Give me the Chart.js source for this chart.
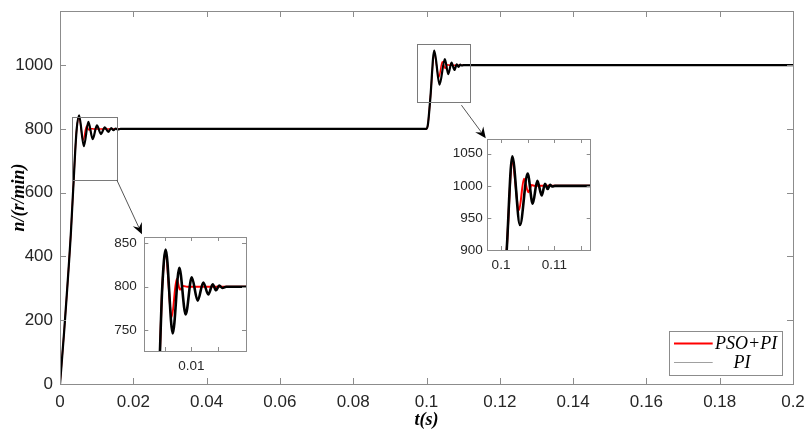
<!DOCTYPE html>
<html>
<head>
<meta charset="utf-8">
<script src="https://cdn.jsdelivr.net/npm/chart.js@4.4.1/dist/chart.umd.min.js"></script>
<style>
  html, body { margin: 0; padding: 0; background: #ffffff; }
  #wrap { position: relative; width: 811px; height: 436px; overflow: hidden; background: #ffffff; }
  canvas { position: absolute; }
</style>
</head>
<body>
<div id="wrap">
  <canvas id="main" width="811" height="436" style="left:0;top:0"></canvas>
  <canvas id="in1" width="165" height="150" style="left:95px;top:225px"></canvas>
  <canvas id="in2" width="165" height="150" style="left:440px;top:127px"></canvas>
</div>
<script>
// ---------------- data ----------------
const seriesNames = ['PSO+PI', 'PI'];

// PI controller response: time (s) and speed (r/min)
const tPI = [0, 0.0011, 0.003, 0.00413, 0.00456, 0.0052, 0.00651, 0.00774, 0.00893, 0.01006,
             0.01118, 0.01222, 0.01316, 0.01398, 0.0146, 0.0152, 0.0158, 0.0165,
             0.1000, 0.1004, 0.10078, 0.10107, 0.10212, 0.10356, 0.10500, 0.10594, 0.10681,
             0.10763, 0.10825, 0.10875, 0.10919, 0.1096, 0.1101, 0.2];
const nPI = [0, 160, 480, 726, 800, 843, 746, 822, 768, 811,
             784, 805, 791, 803, 796, 801.5, 798.5, 800,
             800, 815, 860, 900, 1046, 939, 1019, 972, 1008,
             985, 1003, 995, 1001.5, 999, 1000, 1000];

// PSO+PI controller response
const tPSO = [0, 0.0011, 0.003, 0.00413, 0.00456, 0.0052, 0.00632, 0.00725, 0.00787, 0.00849, 0.0092,
              0.1000, 0.1004, 0.10078, 0.10107, 0.10212, 0.10338, 0.10431, 0.10512, 0.10575, 0.1063, 0.2];
const nPSO = [0, 160, 480, 726, 800, 836, 765, 809, 796.5, 801, 800,
              800, 815, 860, 900, 1035.5, 962.5, 1011, 990, 1001.5, 1000, 1000];

// main axes
const mainXTicks  = [0, 0.02, 0.04, 0.06, 0.08, 0.1, 0.12, 0.14, 0.16, 0.18, 0.2];
const mainXLabels = ['0', '0.02', '0.04', '0.06', '0.08', '0.1', '0.12', '0.14', '0.16', '0.18', '0.2'];
const mainYTicks  = [0, 200, 400, 600, 800, 1000];
const mainYLabels = ['0', '200', '400', '600', '800', '1000'];
const mainXRange = [0, 0.2];
const mainYRange = [0, 1170];

// inset 1 (first step)
const in1XTicks  = [0.005, 0.01, 0.015];
const in1XLabels = ['', '0.01', ''];
const in1YTicks  = [750, 800, 850];
const in1YLabels = ['750', '800', '850'];
const in1XRange = [0.0012, 0.0202];
const in1YRange = [725.8, 857.5];

// inset 2 (second step)
const in2XTicks  = [0.1, 0.105, 0.11, 0.115];
const in2XLabels = ['0.1', '', '0.11', ''];
const in2YTicks  = [900, 950, 1000, 1050];
const in2YLabels = ['900', '950', '1000', '1050'];
const in2XRange = [0.09743, 0.11682];
const in2YRange = [900, 1073];

// zoom rectangles on the main axes (time range, speed range)
const zoomT0 = [0.0032, 0.09744];
const zoomT1 = [0.0155, 0.1120];
const zoomN0 = [640, 885];
const zoomN1 = [837, 1066];
// arrows (main-axes data coordinates)
const arrowFromT = [0.0155, 0.10953];
const arrowFromN = [640, 874.6];
const arrowToT   = [0.02236, 0.11617];
const arrowToN   = [470, 771];

// ---------------- helpers ----------------
const AXIS_COLOR = '#8c8c8c';
const LABEL_COLOR = '#262626';
const SANS = 'Liberation Sans, Arial, Helvetica, sans-serif';
const SERIF = 'Liberation Serif, Times New Roman, serif';

function xy(ts, ns) { return ts.map((t, i) => ({ x: t, y: ns[i] })); }

function makeDatasets(lwBlack, lwRed) {
  const common = { pointRadius: 0, pointHoverRadius: 0, fill: false, tension: 0.4,
                   cubicInterpolationMode: 'monotone' };
  return [
    Object.assign({ label: seriesNames[0], data: xy(tPSO, nPSO), borderColor: '#ff0000',
                    backgroundColor: '#ff0000', borderWidth: lwRed, order: 2 }, common),
    Object.assign({ label: seriesNames[1], data: xy(tPI, nPI), borderColor: '#000000',
                    backgroundColor: '#000000', borderWidth: lwBlack, order: 1 }, common)
  ];
}

function makeAxis(range, ticks, labels, fontSize, pad, fitKey, fitVal, title) {
  return {
    type: 'linear', min: range[0], max: range[1],
    afterBuildTicks: s => { s.ticks = ticks.map(v => ({ value: v })); },
    afterFit: s => {
      s[fitKey] = fitVal;
      s.paddingTop = 0; s.paddingBottom = 0; s.paddingLeft = 0; s.paddingRight = 0;
    },
    grid: { display: false, drawTicks: false },
    border: { display: false },
    ticks: { autoSkip: false, maxRotation: 0, minRotation: 0, padding: pad, color: LABEL_COLOR,
             font: { family: SANS, size: fontSize }, callback: (v, i) => labels[i] },
    title: title || { display: false }
  };
}

// box + inward ticks on all four sides (MATLAB style)
const framePlugin = {
  id: 'frame',
  afterDatasetsDraw(chart, args, opts) {
    const { ctx, chartArea: a, scales } = chart;
    const L = opts.tickLen || 5;
    ctx.save();
    ctx.strokeStyle = AXIS_COLOR;
    ctx.lineWidth = 1;
    ctx.beginPath();
    scales.x.ticks.forEach(t => {
      const p = Math.round(scales.x.getPixelForValue(t.value)) + 0.5;
      ctx.moveTo(p, a.bottom); ctx.lineTo(p, a.bottom - L);
      ctx.moveTo(p, a.top); ctx.lineTo(p, a.top + L);
    });
    scales.y.ticks.forEach(t => {
      const p = Math.round(scales.y.getPixelForValue(t.value)) + 0.5;
      ctx.moveTo(a.left, p); ctx.lineTo(a.left + L, p);
      ctx.moveTo(a.right, p); ctx.lineTo(a.right - L, p);
    });
    ctx.stroke();
    ctx.strokeRect(Math.round(a.left) + 0.5, Math.round(a.top) + 0.5,
                   Math.round(a.width), Math.round(a.height));
    ctx.restore();
  }
};

// zoom rectangles and arrows
const annotPlugin = {
  id: 'annot',
  afterDatasetsDraw(chart) {
    const { ctx, scales: { x, y } } = chart;
    ctx.save();
    ctx.strokeStyle = '#7a7a7a';
    ctx.lineWidth = 1;
    for (let i = 0; i < zoomT0.length; i++) {
      const x0 = x.getPixelForValue(zoomT0[i]), x1 = x.getPixelForValue(zoomT1[i]);
      const y0 = y.getPixelForValue(zoomN1[i]), y1 = y.getPixelForValue(zoomN0[i]);
      ctx.strokeRect(Math.round(x0) + 0.5, Math.round(y0) + 0.5, Math.round(x1 - x0), Math.round(y1 - y0));
    }
    for (let i = 0; i < arrowFromT.length; i++) {
      const sx = x.getPixelForValue(arrowFromT[i]), sy = y.getPixelForValue(arrowFromN[i]);
      const ex = x.getPixelForValue(arrowToT[i]), ey = y.getPixelForValue(arrowToN[i]);
      const dx = ex - sx, dy = ey - sy, len = Math.hypot(dx, dy);
      const ux = dx / len, uy = dy / len, nx = -uy, ny = ux;
      const HL = 11, HW = 5;
      const bx = ex - ux * HL, by = ey - uy * HL;
      const kx = ex - ux * HL * 0.65, ky = ey - uy * HL * 0.65;
      ctx.strokeStyle = '#555555';
      ctx.beginPath(); ctx.moveTo(sx, sy); ctx.lineTo(kx, ky); ctx.stroke();
      ctx.fillStyle = '#000000';
      ctx.beginPath();
      ctx.moveTo(ex, ey);
      ctx.lineTo(bx + nx * HW, by + ny * HW);
      ctx.lineTo(kx, ky);
      ctx.lineTo(bx - nx * HW, by - ny * HW);
      ctx.closePath();
      ctx.fill();
    }
    ctx.restore();
  }
};

// legend box in the lower right corner
const legendPlugin = {
  id: 'legendBox',
  afterDraw(chart) {
    const { ctx, chartArea: a } = chart;
    const ds = chart.data.datasets;
    const w = 113.4, h = 44;
    const x1 = a.right - 10.3, y1 = a.bottom - 9;
    const x0 = x1 - w, y0 = y1 - h;
    ctx.save();
    ctx.fillStyle = '#ffffff';
    ctx.fillRect(x0, y0, w, h);
    ctx.strokeStyle = AXIS_COLOR;
    ctx.lineWidth = 1;
    ctx.strokeRect(Math.round(x0) + 0.5, Math.round(y0) + 0.5, Math.round(w), Math.round(h));
    // sample lines
    ctx.strokeStyle = ds[0].borderColor; ctx.lineWidth = 2;
    ctx.beginPath(); ctx.moveTo(x0 + 4.7, y0 + 12.5); ctx.lineTo(x0 + 43.4, y0 + 12.5); ctx.stroke();
    ctx.strokeStyle = '#a0a0a0'; ctx.lineWidth = 1;
    ctx.beginPath(); ctx.moveTo(x0 + 4.7, y0 + 31.5); ctx.lineTo(x0 + 43.4, y0 + 31.5); ctx.stroke();
    // texts
    ctx.fillStyle = '#000000';
    ctx.font = 'italic 18px ' + SERIF;
    ctx.textBaseline = 'middle';
    ctx.textAlign = 'left';
    ctx.fillText(ds[0].label, x0 + 45.7, y0 + 13);
    ctx.textAlign = 'center';
    ctx.fillText(ds[1].label, x0 + 72.6, y0 + 32);
    ctx.restore();
  }
};

const baseOpts = {
  responsive: false,
  animation: false,
  events: [],
  elements: { line: { capBezierPoints: false } },
  plugins: { legend: { display: false }, tooltip: { enabled: false } }
};

// ---------------- main chart ----------------
new Chart(document.getElementById('main'), {
  type: 'line',
  data: { datasets: makeDatasets(2.2, 1.5) },
  options: Object.assign({}, baseOpts, {
    layout: { padding: { top: 11, right: 18, left: 0, bottom: 0 } },
    plugins: Object.assign({}, baseOpts.plugins, { frame: { tickLen: 6 } }),
    scales: {
      x: makeAxis(mainXRange, mainXTicks, mainXLabels, 17, 8, 'height', 52,
        { display: true, text: 't(s)', color: '#000000', padding: { top: 0, bottom: 5 },
          font: { family: SERIF, size: 18, style: 'italic', weight: 'bold' } }),
      y: makeAxis(mainYRange, mainYTicks, mainYLabels, 17, 7, 'width', 60,
        { display: true, text: 'n/(r/min)', color: '#000000', padding: { top: 9, bottom: 0 },
          font: { family: SERIF, size: 18, style: 'italic', weight: 'bold' } })
    }
  }),
  plugins: [framePlugin, annotPlugin, legendPlugin]
});

// ---------------- inset 1 ----------------
new Chart(document.getElementById('in1'), {
  type: 'line',
  data: { datasets: makeDatasets(2.6, 2) },
  options: Object.assign({}, baseOpts, {
    layout: { padding: { top: 12, right: 14, left: 0, bottom: 0 } },
    plugins: Object.assign({}, baseOpts.plugins, { frame: { tickLen: 4 } }),
    scales: {
      x: makeAxis(in1XRange, in1XTicks, in1XLabels, 13.5, 7.5, 'height', 24),
      y: makeAxis(in1YRange, in1YTicks, in1YLabels, 13.5, 7.5, 'width', 49.3)
    }
  }),
  plugins: [framePlugin]
});

// ---------------- inset 2 ----------------
new Chart(document.getElementById('in2'), {
  type: 'line',
  data: { datasets: makeDatasets(2.6, 2) },
  options: Object.assign({}, baseOpts, {
    layout: { padding: { top: 12, right: 14.3, left: 0, bottom: 0 } },
    plugins: Object.assign({}, baseOpts.plugins, { frame: { tickLen: 4 } }),
    scales: {
      x: makeAxis(in2XRange, in2XTicks, in2XLabels, 13.5, 7.5, 'height', 27),
      y: makeAxis(in2YRange, in2YTicks, in2YLabels, 13.5, 4.5, 'width', 47.3)
    }
  }),
  plugins: [framePlugin]
});
</script>
</body>
</html>
